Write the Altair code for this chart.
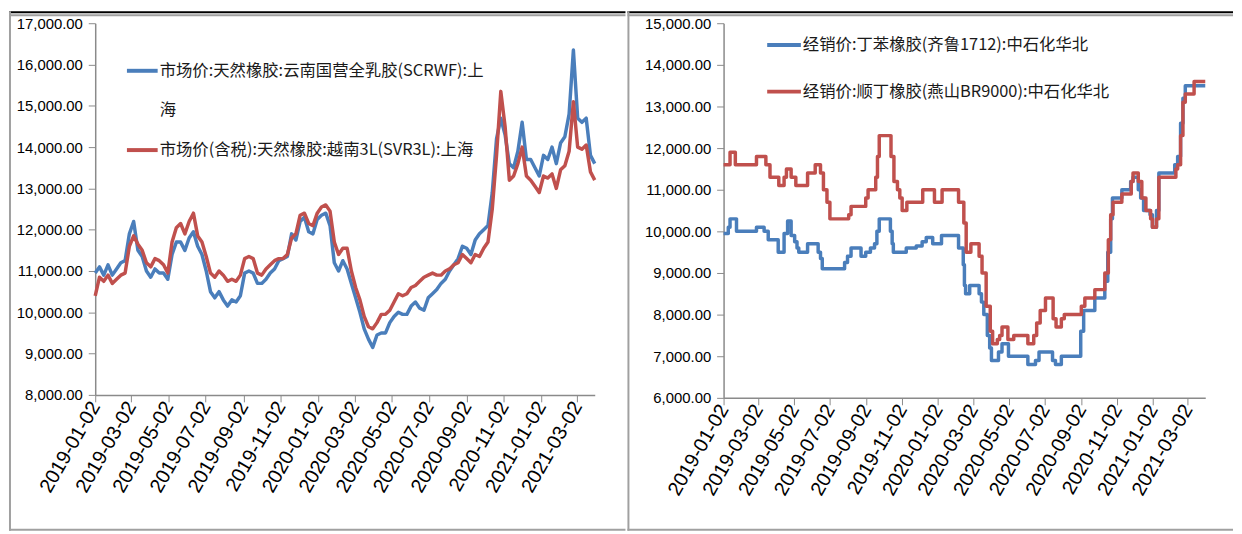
import altair as alt
import pandas as pd

BLUE = "#4a7ebb"
RED = "#c0504d"
CJK = "Noto Sans CJK SC"
NUMFONT = "Liberation Sans"
DATEFONT = "Liberation Sans"

# ---------------- left panel: natural rubber (weekly readings) ----------------
left_names = ["市场价:天然橡胶:云南国营全乳胶(SCRWF):上海",
              "市场价(含税):天然橡胶:越南3L(SVR3L):上海"]
left_start = "2019-01-02"
left_blue = [10950, 11100, 10900, 11150, 10900, 11050, 11200, 11250, 11900, 12200,
             11500, 11350, 11000, 10850, 11050, 10950, 10950, 10800, 11400, 11700,
             11700, 11500, 11800, 11950, 11600, 11400, 11000, 10500, 10350, 10500,
             10300, 10150, 10300, 10250, 10400, 10950, 11000, 10950, 10700, 10700,
             10800, 10950, 11050, 11250, 11300, 11350, 11900, 11750, 12200, 12300,
             11950, 11900, 12250, 12350, 12400, 12100, 11200, 11000, 11250, 11050,
             10700, 10350, 10000, 9600, 9350, 9150, 9450, 9500, 9500, 9750,
             9900, 10000, 9950, 9950, 10150, 10250, 10100, 10050, 10350, 10450,
             10550, 10700, 10800, 11000, 11150, 11300, 11600, 11550, 11400, 11750,
             11900, 12000, 12100, 12900, 14200, 14700, 14300, 13600, 13500, 13900,
             14600, 13700, 13700, 13500, 13300, 13800, 13700, 14000, 13600, 14100,
             14250, 14800, 16350, 14700, 14600, 14700, 13800, 13600]
left_red = [10400, 10850, 10750, 10900, 10700, 10800, 10900, 10950, 11600, 11850,
            11650, 11500, 11200, 11100, 11300, 11250, 11150, 10950, 11700, 12050,
            12150, 11900, 12200, 12400, 11850, 11700, 11350, 10950, 10850, 11000,
            10900, 10750, 10800, 10750, 10900, 11300, 11350, 11300, 10950, 10900,
            11050, 11150, 11250, 11300, 11300, 11400, 11800, 11900, 12350, 12400,
            12150, 12100, 12400, 12550, 12600, 12450, 11700, 11400, 11550, 11550,
            11000, 10600, 10300, 9900, 9650, 9600, 9750, 9950, 9950, 10050,
            10250, 10450, 10400, 10450, 10600, 10650, 10750, 10850, 10900, 10950,
            10900, 10900, 11000, 11050, 11150, 11200, 11400, 11300, 11200, 11400,
            11350, 11550, 11700, 12500, 13800, 15350, 14500, 13200, 13300, 13600,
            14000, 13300, 13200, 13050, 12900, 13300, 13250, 13350, 13000, 13450,
            13550, 13900, 15100, 14000, 13950, 14050, 13400, 13200]
left_ticks_y = list(range(8000, 17001, 1000))
left_domain_y = [8000, 17000]
left_domain_x = ["2019-01-02", "2021-03-31"]

# ---------------- right panel: synthetic rubber (price change points) ----------------
right_names = ["经销价:丁苯橡胶(齐鲁1712):中石化华北",
               "经销价:顺丁橡胶(燕山BR9000):中石化华北"]
right_blue_dates = [
    "2019-01-02", "2019-01-10", "2019-01-13", "2019-01-24", "2019-02-27", "2019-03-12",
    "2019-03-19", "2019-04-05", "2019-04-15", "2019-04-21", "2019-04-27", "2019-05-03",
    "2019-05-07", "2019-05-10", "2019-05-25", "2019-06-12", "2019-06-16", "2019-06-19",
    "2019-07-27", "2019-08-01", "2019-08-07", "2019-08-24", "2019-09-01", "2019-09-09",
    "2019-09-16", "2019-09-20", "2019-09-24", "2019-10-13", "2019-10-16", "2019-10-18",
    "2019-11-09", "2019-11-26", "2019-12-06", "2019-12-13", "2019-12-24", "2020-01-08",
    "2020-02-06", "2020-02-14", "2020-02-16", "2020-02-18", "2020-02-25", "2020-03-12",
    "2020-03-16", "2020-03-20", "2020-03-26", "2020-03-30", "2020-04-02", "2020-04-14",
    "2020-04-20", "2020-05-01", "2020-06-03", "2020-06-16", "2020-06-22", "2020-07-15",
    "2020-07-20", "2020-07-30", "2020-09-01", "2020-09-06", "2020-09-25", "2020-10-12",
    "2020-10-17", "2020-10-22", "2020-10-25", "2020-11-10", "2020-11-25", "2020-11-29",
    "2020-12-08", "2020-12-12", "2020-12-17", "2020-12-28", "2021-01-01", "2021-01-08",
    "2021-01-12", "2021-02-08", "2021-02-13", "2021-02-18", "2021-02-22", "2021-02-26",
    "2021-04-01"]
right_blue_values = [
    9950, 10100, 10300, 10000, 10100, 10000,
    9800, 9500, 9950, 10250, 9900, 9750,
    9600, 9500, 9700, 9500, 9350, 9100,
    9250, 9400, 9600, 9400, 9500, 9600,
    9700, 10000, 10300, 10000, 9700, 9500,
    9600, 9650, 9750, 9850, 9700, 9900,
    9600, 9200, 8700, 8500, 8700, 8500,
    8300, 8000, 7500, 7200, 6900, 7100,
    7300, 7000, 6800, 6900, 7100, 6900,
    6800, 7000, 7600, 8100, 8400, 8800,
    9500, 10300, 10800, 11000, 11200, 11300,
    11000, 10800, 10500, 10400, 10100, 10500,
    11400, 11600, 11800, 12600, 13200, 13500,
    13500]
right_red_dates = [
    "2019-01-02", "2019-01-13", "2019-01-22", "2019-02-27", "2019-03-15", "2019-03-22",
    "2019-04-06", "2019-04-15", "2019-04-19", "2019-04-27", "2019-05-05", "2019-05-25",
    "2019-06-07", "2019-06-16", "2019-06-21", "2019-06-27", "2019-07-02", "2019-08-03",
    "2019-08-07", "2019-09-01", "2019-09-05", "2019-09-18", "2019-09-21", "2019-09-24",
    "2019-10-14", "2019-10-19", "2019-10-25", "2019-10-29", "2019-11-02", "2019-11-10",
    "2019-12-07", "2019-12-27", "2020-01-09", "2020-02-06", "2020-02-15", "2020-02-19",
    "2020-02-27", "2020-03-12", "2020-03-17", "2020-03-24", "2020-03-31", "2020-04-04",
    "2020-04-12", "2020-04-16", "2020-04-20", "2020-04-30", "2020-05-10", "2020-06-03",
    "2020-06-13", "2020-06-18", "2020-06-24", "2020-07-03", "2020-07-16", "2020-07-21",
    "2020-07-30", "2020-08-04", "2020-09-02", "2020-09-08", "2020-09-25", "2020-10-12",
    "2020-10-18", "2020-10-22", "2020-10-26", "2020-11-10", "2020-11-26", "2020-11-29",
    "2020-12-08", "2020-12-14", "2020-12-21", "2020-12-29", "2021-01-01", "2021-01-08",
    "2021-01-12", "2021-02-10", "2021-02-13", "2021-02-18", "2021-02-22", "2021-02-26",
    "2021-03-13", "2021-04-01"]
right_red_values = [
    11600, 11900, 11600, 11800, 11600, 11300,
    11100, 11300, 11500, 11300, 11100, 11400,
    11600, 11400, 11000, 10700, 10300, 10400,
    10600, 10800, 11000, 11300, 11800, 12300,
    11800, 11200, 11000, 10800, 10500, 10700,
    11000, 10700, 11000, 10700, 10200, 9500,
    9700, 9400, 9000, 8200, 7600, 7300,
    7400, 7500, 7700, 7400, 7500, 7300,
    7500, 7800, 8100, 8400, 7900, 7700,
    7900, 8000, 8200, 8400, 8600, 9000,
    9800, 10400, 10700, 10900, 11200, 11400,
    11200, 10800, 10500, 10300, 10100, 10300,
    11300, 11500, 11600, 12300, 13100, 13300,
    13600, 13600]
right_ticks_y = list(range(6000, 15001, 1000))
right_domain_y = [6000, 15000]
right_domain_x = ["2019-01-02", "2021-04-01"]

x_tick_labels = ["2019-01-02", "2019-03-02", "2019-05-02", "2019-07-02", "2019-09-02",
                 "2019-11-02", "2020-01-02", "2020-03-02", "2020-05-02", "2020-07-02",
                 "2020-09-02", "2020-11-02", "2021-01-02", "2021-03-02"]


def ms(s):
    return int(pd.Timestamp(s, tz="UTC").value // 10**6)


x_tick_ms = [ms(s) for s in x_tick_labels]

# build tables
left_dates = [d.strftime("%Y-%m-%d") for d in pd.date_range(left_start, periods=len(left_blue), freq="7D")]
left_df = pd.DataFrame({
    "date": left_dates + left_dates,
    "value": left_blue + left_red,
    "series": [left_names[0]] * len(left_blue) + [left_names[1]] * len(left_red),
})
right_df = pd.DataFrame({
    "date": right_blue_dates + right_red_dates,
    "value": right_blue_values + right_red_values,
    "series": [right_names[0]] * len(right_blue_values) + [right_names[1]] * len(right_red_values),
})

AX = "#8a8a8a"


def lines(df, names, dom_x, dom_y, ticks_y, width, height, interp):
    return alt.Chart(df).mark_line(strokeWidth=3.5, interpolate=interp, strokeJoin="round").encode(
        x=alt.X("date:T",
                scale=alt.Scale(type="utc", domain=[ms(dom_x[0]), ms(dom_x[1])], nice=False),
                axis=alt.Axis(values=x_tick_ms, labelExpr="utcFormat(datum.value, '%Y-%m-%d')",
                              labelAngle=-60,
                              labelFont=DATEFONT, labelFontSize=20, labelColor="#000",
                              labelOverlap=False, labelFlush=False, labelPadding=1,
                              tickSize=7, tickColor=AX, domainColor=AX,
                              domainWidth=1.5, tickWidth=1, grid=False, title=None)),
        y=alt.Y("value:Q",
                scale=alt.Scale(domain=dom_y, nice=False, zero=False),
                axis=alt.Axis(values=ticks_y, format=",.2f", labelFont=NUMFONT, labelFontSize=15,
                              labelColor="#000", labelPadding=6, tickSize=7, tickColor=AX,
                              domainColor=AX, domainWidth=1.5, grid=False, title=None,
                              labelOverlap=False)),
        color=alt.Color("series:N", scale=alt.Scale(domain=names, range=[BLUE, RED]), legend=None),
    ).properties(width=width, height=height)


ONE = pd.DataFrame({"k": [0]})


def hrule(x, x2, y, color, w):
    return alt.Chart(ONE).mark_rule(color=color, strokeWidth=w).encode(
        x=alt.value(x), x2=alt.value(x2), y=alt.value(y))


def vrule(x, y, y2, color, w):
    return alt.Chart(ONE).mark_rule(color=color, strokeWidth=w).encode(
        x=alt.value(x), y=alt.value(y), y2=alt.value(y2))


def legend_text(x, y, txt):
    return alt.Chart(ONE).mark_text(align="left", baseline="middle", font=CJK, fontSize=16.5,
                                    lineHeight=40, color="#1a1a1a").encode(
        x=alt.value(x), y=alt.value(y), text=alt.value(txt))


GRAY = "#a0a0a0"

left = alt.layer(
    lines(left_df, left_names, left_domain_x, left_domain_y, left_ticks_y, 504, 375, "linear"),
    hrule(-87, 535, -11, "#000", 2),
    hrule(-87, 535, -8, GRAY, 2),
    vrule(-86, -12, 512, GRAY, 2),
    hrule(-87, 535, 511, GRAY, 2),
    hrule(32, 63, 48, BLUE, 4),
    hrule(32, 63, 128, RED, 4),
    legend_text(65, 48, [left_names[0][:-1], left_names[0][-1:]]),
    legend_text(65, 128, left_names[1]),
)

right = alt.layer(
    lines(right_df, right_names, right_domain_x, right_domain_y, right_ticks_y, 486, 378, "step-after"),
    hrule(-97, 514, -11, "#000", 2),
    hrule(-97, 514, -8, GRAY, 2),
    vrule(-96, -12, 512, GRAY, 2),
    hrule(-97, 514, 511, GRAY, 2),
    hrule(44, 78, 22, BLUE, 4),
    hrule(44, 78, 69, RED, 4),
    legend_text(80, 22, right_names[0]),
    legend_text(80, 69, right_names[1]),
)

chart = alt.hconcat(left, right, spacing=0).properties(
    padding=0, background="white"
).configure_view(stroke=None)

chart.save("out.html", embed_options={"renderer": "svg", "actions": False})
